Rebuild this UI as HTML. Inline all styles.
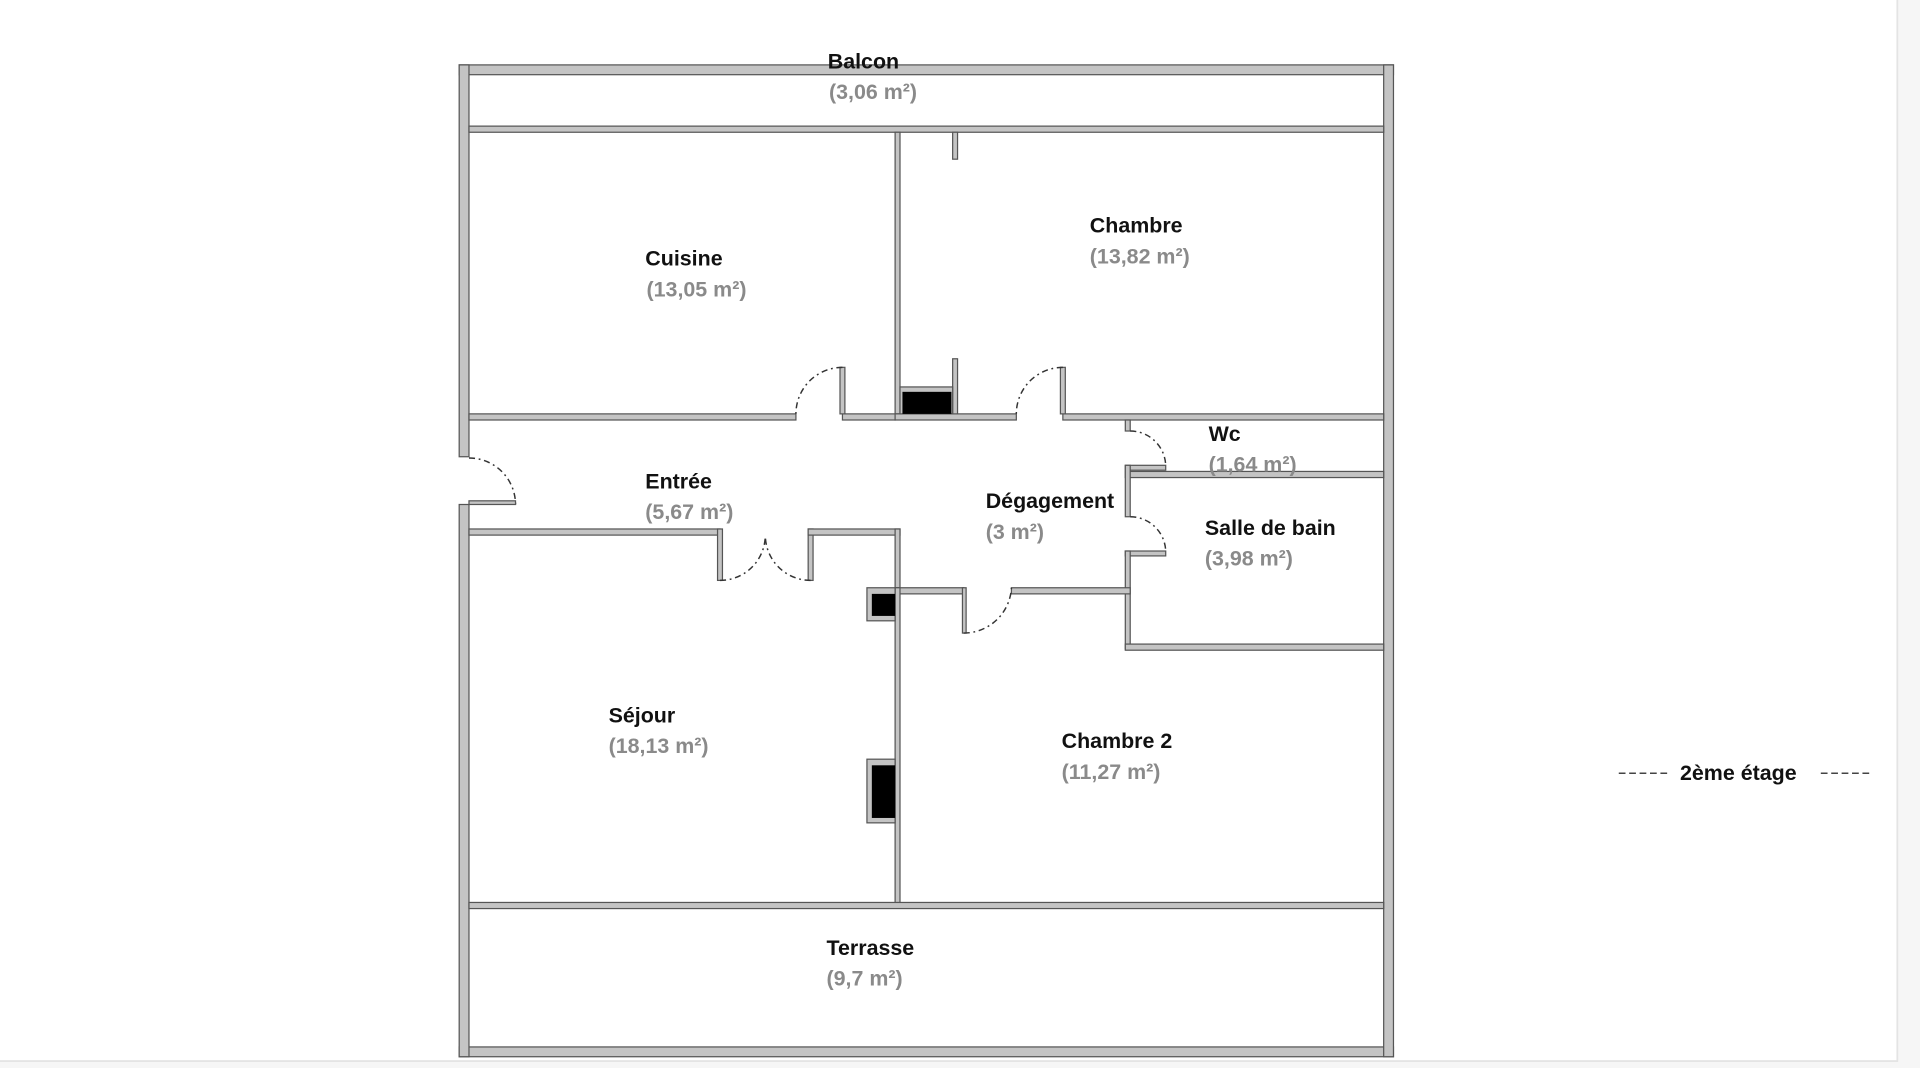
<!DOCTYPE html>
<html><head><meta charset="utf-8"><style>
html,body{margin:0;padding:0;background:#f6f6f6;}
svg{display:block}
text{font-family:"Liberation Sans",sans-serif;font-weight:bold;font-size:17.5px}
.n{fill:#111}.a{fill:#8a8a8a}
.w{fill:#c4c4c4;stroke:#555;stroke-width:1}
.b{fill:#000}
.d{fill:none;stroke:#333;stroke-width:1.2;stroke-dasharray:5 3 1.5 3}
</style></head><body>
<svg width="1920" height="1068" viewBox="0 0 1568 872.2" preserveAspectRatio="none" xmlns="http://www.w3.org/2000/svg">
<rect x="0" y="0" width="1549" height="866" fill="#fff"/>
<line x1="1549.5" y1="0" x2="1549.5" y2="867" stroke="#e4e4e4" stroke-width="1.5"/>
<line x1="0" y1="866.5" x2="1550" y2="866.5" stroke="#e4e4e4" stroke-width="1.5"/>
<rect class="w" x="375" y="53" width="763" height="8"/>
<rect class="w" x="375" y="855" width="763" height="8"/>
<rect class="w" x="1130" y="53" width="8" height="810"/>
<rect class="w" x="375" y="53" width="8" height="320"/>
<rect class="w" x="375" y="412" width="8" height="451"/>
<rect class="w" x="383" y="103" width="747" height="5"/>
<rect class="w" x="731" y="108" width="4" height="230"/>
<rect class="w" x="778" y="108" width="4" height="22"/>
<rect class="w" x="383" y="338" width="267" height="5"/>
<rect class="w" x="688" y="338" width="43" height="5"/>
<rect class="w" x="731" y="338" width="99" height="5"/>
<rect class="w" x="868" y="338" width="262" height="5"/>
<rect class="w" x="686" y="300" width="4" height="38"/>
<rect class="w" x="778" y="293" width="4" height="45"/>
<rect class="w" x="866" y="300" width="4" height="38"/>
<rect class="w" x="735" y="316" width="43" height="22"/>
<rect class="b" x="737" y="320" width="40" height="18"/>
<rect class="w" x="919" y="343" width="4" height="9"/>
<rect class="w" x="919" y="380" width="33" height="4"/>
<rect class="w" x="919" y="385" width="211" height="5"/>
<rect class="w" x="919" y="380" width="4" height="42"/>
<rect class="w" x="919" y="450" width="33" height="4"/>
<rect class="w" x="919" y="450" width="4" height="80"/>
<rect class="w" x="919" y="526" width="211" height="5"/>
<rect class="w" x="383" y="432" width="205" height="5"/>
<rect class="w" x="586" y="432" width="4" height="42"/>
<rect class="w" x="660" y="432" width="4" height="42"/>
<rect class="w" x="660" y="432" width="75" height="5"/>
<rect class="w" x="731" y="432" width="4" height="48"/>
<rect class="w" x="731" y="480" width="56" height="5"/>
<rect class="w" x="786" y="480" width="3" height="37"/>
<rect class="w" x="826" y="480" width="97" height="5"/>
<rect class="w" x="731" y="480" width="4" height="258"/>
<rect class="w" x="708" y="480" width="23" height="27"/>
<rect class="b" x="712" y="485" width="19" height="18"/>
<rect class="w" x="708" y="620" width="23" height="52"/>
<rect class="b" x="712" y="625" width="19" height="43"/>
<rect class="w" x="383" y="737" width="747" height="5"/>
<path class="d" d="M688 300 A38 38 0 0 0 650 338"/>
<path class="d" d="M868 300 A38 38 0 0 0 830 338"/>
<path class="d" d="M383 374 A38 38 0 0 1 421 412"/>
<rect class="w" x="383" y="409" width="38" height="3"/>
<path class="d" d="M923 352 A29 29 0 0 1 952 381"/>
<path class="d" d="M923 422 A29 29 0 0 1 952 451"/>
<path class="d" d="M588 474 A37 37 0 0 0 625 437"/>
<path class="d" d="M662 474 A37 37 0 0 1 625 437"/>
<path class="d" d="M787 517 A39 39 0 0 0 826 480"/>
<text class="n" x="676" y="56">Balcon</text><text class="a" x="677" y="81">(3,06 m²)</text>
<text class="n" x="527" y="217">Cuisine</text><text class="a" x="528" y="242">(13,05 m²)</text>
<text class="n" x="890" y="190">Chambre</text><text class="a" x="890" y="215">(13,82 m²)</text>
<text class="n" x="987" y="360">Wc</text><text class="a" x="987" y="385">(1,64 m²)</text>
<text class="n" x="527" y="399">Entrée</text><text class="a" x="527" y="424">(5,67 m²)</text>
<text class="n" x="805" y="415">Dégagement</text><text class="a" x="805" y="440">(3 m²)</text>
<text class="n" x="984" y="437">Salle de bain</text><text class="a" x="984" y="462">(3,98 m²)</text>
<text class="n" x="497" y="590">Séjour</text><text class="a" x="497" y="615">(18,13 m²)</text>
<text class="n" x="867" y="611">Chambre 2</text><text class="a" x="867" y="636">(11,27 m²)</text>
<text class="n" x="675" y="780">Terrasse</text><text class="a" x="675" y="805">(9,7 m²)</text>
<line x1="1322" y1="631.5" x2="1363" y2="631.5" stroke="#444" stroke-width="1.3" stroke-dasharray="5.5 3"/>
<line x1="1487" y1="631.5" x2="1527" y2="631.5" stroke="#444" stroke-width="1.3" stroke-dasharray="5.5 3"/>
<text class="n" x="1372" y="637">2ème étage</text>
</svg>
</body></html>
